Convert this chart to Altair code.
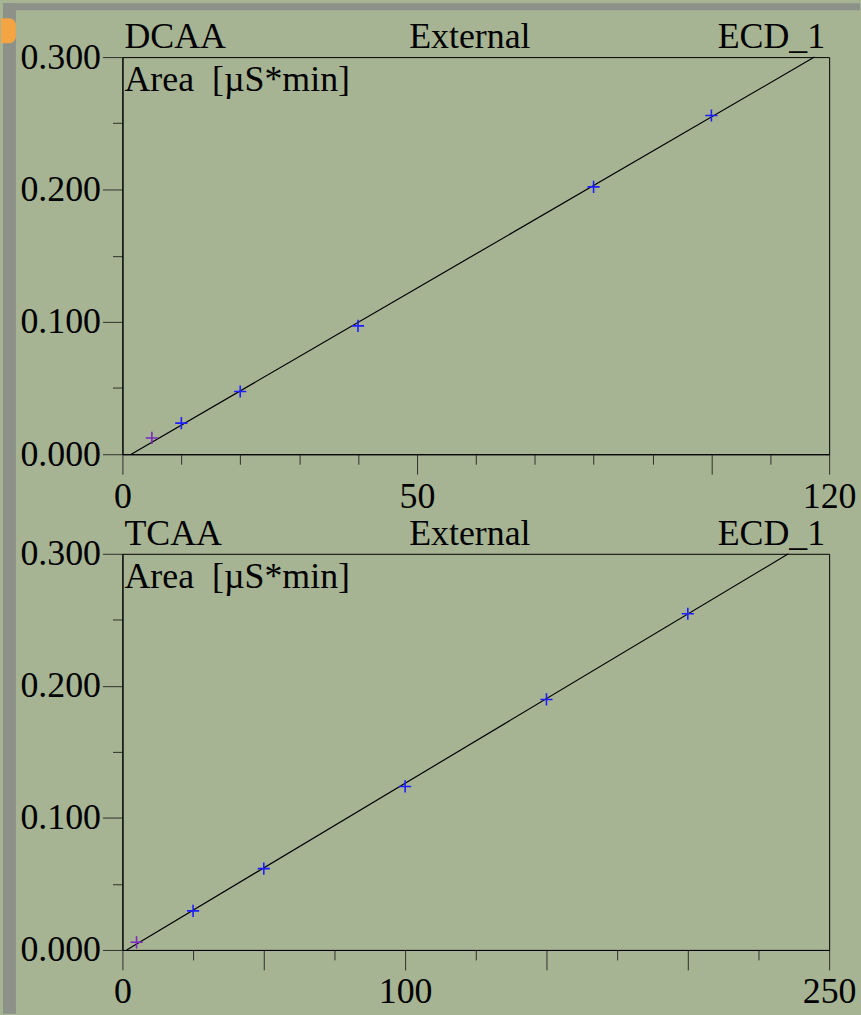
import json

import altair as alt
import pandas as pd

# DCAA calibration: standard concentration vs. peak area [µS*min]
dcaa_conc = [5, 10, 20, 40, 80, 100]
dcaa_area = [0.0123, 0.0235, 0.0474, 0.0970, 0.2020, 0.2559]
# end points of the fitted calibration line
dcaa_fit_conc = [1.5, 117.5]
dcaa_fit_area = [0.0, 0.300]

# TCAA calibration
tcaa_conc = [5, 25, 50, 100, 150, 200]
tcaa_area = [0.0058, 0.0296, 0.0616, 0.1238, 0.1897, 0.2546]
tcaa_fit_conc = [1.5, 235.6]
tcaa_fit_area = [0.0, 0.300]

# lowest standard is drawn in purple, the rest in blue
point_colors = ["#7a28c0", "#1e1eff", "#1e1eff", "#1e1eff", "#1e1eff", "#1e1eff"]

# axis ticks and labels
dcaa_x_ticks = [0, 10, 20, 30, 40, 50, 60, 70, 80, 90, 100, 110, 120]
dcaa_x_major = [0, 50, 100, 120]
dcaa_x_labels = [0, 50, 120]
tcaa_x_ticks = [0, 25, 50, 75, 100, 125, 150, 175, 200, 225, 250]
tcaa_x_major = [0, 50, 100, 150, 200, 250]
tcaa_x_labels = [0, 100, 250]
y_ticks = [0.0, 0.025, 0.05, 0.075, 0.1, 0.125, 0.15, 0.175, 0.2, 0.225, 0.25, 0.275, 0.3]
y_labels = [0.0, 0.1, 0.2, 0.3]

FONT = "Liberation Serif"
FS = 36
SAGE = "#a6b493"
PLOT_W = 710


def in_list(vals):
    return f"indexof({json.dumps(vals)}, datum.value) >= 0"


def label_text(txt, x, y, align):
    return (
        alt.Chart(alt.Data(values=[{}]))
        .mark_text(text=txt, align=align, baseline="alphabetic", font=FONT,
                   fontSize=FS, color="black")
        .encode(x=alt.value(x), y=alt.value(y))
    )


def panel(name, conc, area, fit_conc, fit_area, xmax, x_ticks, x_major,
          x_labels, height):
    pts = pd.DataFrame({"conc": conc, "area": area, "color": point_colors})
    fit = pd.DataFrame({"conc": fit_conc, "area": fit_area})

    xscale = alt.Scale(domain=[0, xmax], nice=False, zero=True)
    yscale = alt.Scale(domain=[0, 0.3], nice=False, zero=True)

    xaxis = alt.Axis(
        values=x_ticks, title=None, grid=False,
        labelExpr=f"{in_list(x_labels)} ? datum.label : ''",
        tickSize={"condition": {"test": in_list(x_major), "value": 20}, "value": 10},
        labelPadding=5, labelFlush=False, labelOverlap=False,
        labelBaseline="top",
    )
    yaxis = alt.Axis(
        values=y_ticks, title=None, grid=False, format=".3f",
        labelExpr=f"{in_list(y_labels)} ? datum.label : ''",
        tickSize={"condition": {"test": in_list(y_labels), "value": 20}, "value": 10},
        labelPadding=2, labelFlush=False, labelOverlap=False,
        labelBaseline="middle",
    )

    line = alt.Chart(fit).mark_line(color="black", strokeWidth=1.2).encode(
        x=alt.X("conc:Q", scale=xscale, axis=xaxis),
        y=alt.Y("area:Q", scale=yscale, axis=yaxis),
    )
    points = alt.Chart(pts).mark_point(
        shape="M-1,0L1,0M0,-1L0,1", size=150, strokeWidth=1.6, filled=False,
        opacity=1,
    ).encode(
        x="conc:Q",
        y="area:Q",
        color=alt.Color("color:N", scale=None),
    )

    texts = [
        label_text(name, 2, -9, "left"),
        label_text("External", 349, -9, "center"),
        label_text("ECD_1", 706, -9, "right"),
        label_text("Area \u00a0[µS*min]", 2, 34, "left"),
    ]
    return alt.layer(line, points, *texts).properties(width=PLOT_W, height=height)


# page frame: grey strips along the left and top edge, small orange tab
frame = alt.Data(values=[{}])
left_strip = alt.Chart(frame).mark_rect(color="#8c9189").encode(
    x=alt.value(-120), x2=alt.value(-107), y=alt.value(-54), y2=alt.value(961))
top_strip = alt.Chart(frame).mark_rect(color="#8c9189").encode(
    x=alt.value(-120), x2=alt.value(741), y=alt.value(-54), y2=alt.value(-47))
tab = alt.Chart(frame).mark_rect(
    color="#f4a443", cornerRadiusTopRight=7, cornerRadiusBottomRight=7
).encode(x=alt.value(-122), x2=alt.value(-107), y=alt.value(-39), y2=alt.value(-14))

top = alt.layer(
    left_strip, top_strip, tab,
    panel("DCAA", dcaa_conc, dcaa_area, dcaa_fit_conc, dcaa_fit_area, 120,
          dcaa_x_ticks, dcaa_x_major, dcaa_x_labels, 399),
).properties(width=PLOT_W, height=399)

bottom = panel("TCAA", tcaa_conc, tcaa_area, tcaa_fit_conc, tcaa_fit_area, 250,
               tcaa_x_ticks, tcaa_x_major, tcaa_x_labels, 398)

chart = (
    alt.vconcat(top, bottom, spacing=100, bounds="flush")
    .properties(padding=0, background=SAGE)
    .configure_view(stroke="black", strokeWidth=1, fill=SAGE)
    .configure_axis(
        domainColor="black", domainWidth=1,
        tickColor="#2b3028", tickWidth=1,
        labelFont=FONT, labelFontSize=FS, labelColor="black",
    )
)

chart.save("out.html", embed_options={"renderer": "svg", "actions": False})
